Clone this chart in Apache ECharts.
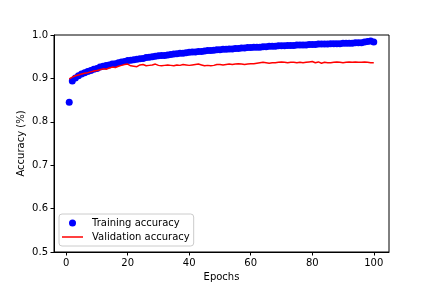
<!DOCTYPE html>
<html>
<head>
<meta charset="utf-8">
<script src="https://cdn.jsdelivr.net/npm/echarts@6/dist/echarts.min.js"></script>
<style>html,body{margin:0;padding:0;background:#fff}#c{width:432px;height:288px}</style>
</head>
<body>
<div id="c"></div>
<script>
const epochs = [1,2,3,4,5,6,7,8,9,10,11,12,13,14,15,16,17,18,19,20,21,22,23,24,25,26,27,28,29,30,31,32,33,34,35,36,37,38,39,40,41,42,43,44,45,46,47,48,49,50,51,52,53,54,55,56,57,58,59,60,61,62,63,64,65,66,67,68,69,70,71,72,73,74,75,76,77,78,79,80,81,82,83,84,85,86,87,88,89,90,91,92,93,94,95,96,97,98,99,100];
const trainingAcc = [0.845,0.894,0.901,0.906,0.910,0.913,0.916,0.918,0.921,0.923,0.926,0.928,0.930,0.931,0.933,0.934,0.936,0.938,0.939,0.941,0.942,0.943,0.944,0.945,0.946,0.948,0.949,0.950,0.951,0.952,0.953,0.953,0.954,0.955,0.956,0.957,0.958,0.958,0.959,0.960,0.961,0.961,0.962,0.962,0.963,0.964,0.964,0.965,0.966,0.966,0.967,0.967,0.968,0.968,0.969,0.969,0.970,0.970,0.971,0.971,0.972,0.972,0.972,0.973,0.973,0.974,0.974,0.974,0.975,0.975,0.975,0.976,0.976,0.976,0.977,0.977,0.977,0.977,0.978,0.978,0.978,0.979,0.979,0.979,0.979,0.980,0.980,0.980,0.980,0.981,0.981,0.981,0.981,0.982,0.982,0.982,0.984,0.985,0.986,0.984];
const validationAcc = [0.899,0.903,0.906,0.908,0.910,0.912,0.913,0.915,0.917,0.918,0.920,0.922,0.921,0.924,0.926,0.925,0.928,0.930,0.932,0.933,0.929,0.928,0.927,0.931,0.932,0.929,0.930,0.931,0.933,0.930,0.929,0.930,0.931,0.930,0.929,0.931,0.930,0.932,0.931,0.930,0.931,0.932,0.933,0.931,0.929,0.930,0.929,0.930,0.932,0.932,0.931,0.932,0.933,0.932,0.933,0.934,0.933,0.932,0.933,0.934,0.934,0.935,0.936,0.937,0.936,0.935,0.936,0.936,0.937,0.938,0.937,0.936,0.937,0.937,0.936,0.937,0.936,0.937,0.938,0.939,0.936,0.938,0.935,0.937,0.936,0.936,0.937,0.938,0.937,0.936,0.937,0.938,0.937,0.938,0.937,0.937,0.938,0.937,0.936,0.936];
const xTicks = [0,20,40,60,80,100];
const yTicks = [0.5,0.6,0.7,0.8,0.9,1.0];

const FONT = 'DejaVu Sans';
const chart = echarts.init(document.getElementById('c'), null, {renderer:'canvas'});
chart.setOption({
  animation: false,
  backgroundColor: '#ffffff',
  textStyle: {fontFamily: FONT},
  grid: {left: 54, right: 43, top: 35, bottom: 36, show: true, borderColor: '#000', borderWidth: 1, backgroundColor: 'transparent'},
  xAxis: {
    type: 'value', min: -3.95, max: 104.95,
    name: 'Epochs', nameLocation: 'middle', nameGap: 20, nameMoveOverlap: false,
    nameTextStyle: {fontFamily: FONT, fontSize: 10, color: '#000'},
    axisLine: {show: true, onZero: false, lineStyle: {color: '#000', width: 1}},
    axisTick: {show: true, length: 3.5, inside: false, customValues: xTicks, lineStyle: {color: '#000'}},
    axisLabel: {customValues: xTicks, margin: 6, fontFamily: FONT, fontSize: 10, color: '#000'},
    splitLine: {show: false}
  },
  yAxis: {
    type: 'value', min: 0.5, max: 1.0, interval: 0.1,
    name: 'Accuracy (%)', nameLocation: 'middle', nameGap: 28, nameRotate: 90, nameMoveOverlap: false,
    nameTextStyle: {fontFamily: FONT, fontSize: 10, color: '#000'},
    axisLine: {show: true, onZero: false, lineStyle: {color: '#000', width: 1}},
    axisTick: {show: true, length: 3.5, lineStyle: {color: '#000'}},
    axisLabel: {margin: 6, fontFamily: FONT, fontSize: 10, color: '#000', formatter: v => v.toFixed(1)},
    splitLine: {show: false}
  },
  legend: {
    orient: 'vertical', left: 59, top: 214,
    padding: [2, 4, 2, 3],
    backgroundColor: 'rgba(255,255,255,0.8)', borderColor: '#cccccc', borderWidth: 1, borderRadius: 3,
    itemWidth: 21, itemHeight: 7, itemGap: 0,
    textStyle: {fontFamily: FONT, fontSize: 10, color: '#000', lineHeight: 14, padding: [0,0,0,4]},
    data: [
      {name: 'Training accuracy', icon: 'circle', itemStyle: {color: '#0000ff', opacity: 1}},
      {name: 'Validation accuracy', icon: 'path://M0,0 L21,0 L21,1.5 L0,1.5 Z', itemStyle: {color: '#ff0000', opacity: 1}}
    ]
  },
  series: [
    {
      name: 'Training accuracy', type: 'scatter', symbol: 'circle', symbolSize: 7,
      itemStyle: {color: '#0000ff', opacity: 1}, z: 2,
      data: epochs.map((e, i) => [e, trainingAcc[i]])
    },
    {
      name: 'Validation accuracy', type: 'line', symbol: 'none', showSymbol: false,
      lineStyle: {color: '#ff0000', width: 1.5}, itemStyle: {color: '#ff0000'}, z: 3,
      data: epochs.map((e, i) => [e, validationAcc[i]])
    }
  ]
});
</script>
</body>
</html>
